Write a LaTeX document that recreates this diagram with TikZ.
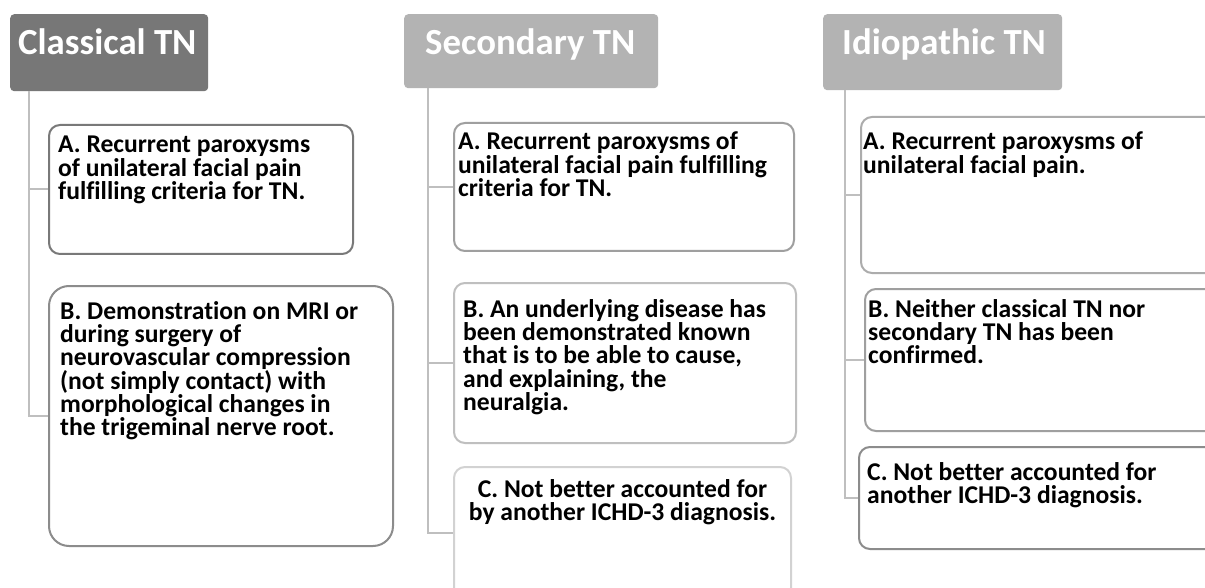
\documentclass[tikz,border=0pt]{standalone}
\usepackage{fontspec}
\setmainfont{Carlito}[Ligatures=NoCommon]
\usetikzlibrary{calc, positioning}
\definecolor{hdrdark}{HTML}{777777}
\definecolor{hdrlight}{HTML}{B3B3B3}
\definecolor{linkgray}{HTML}{BFBFBF}
\tikzset{
  hdr/.style={fill=#1, rounded corners=4pt, anchor=north west, inner sep=0pt},
  hdrtext/.style={anchor=north west, inner sep=0pt, text=white,
    font=\fontsize{36.8}{40}\selectfont\bfseries},
  crit/.style={draw=#1, line width=2pt, rounded corners=11pt, anchor=north west,
    inner sep=0pt, fill=white},
  crittext/.style={anchor=north west, inner sep=0pt, align=left,
    font=\fontsize{25.6}{23.3}\selectfont\bfseries},
  link/.style={draw=linkgray, line width=2pt}
}

\begin{document}
\begin{tikzpicture}[x=1pt, y=-1pt]
\useasboundingbox (0,0) rectangle (1205,588);
\fill[white] (0,0) rectangle (1205,588);
\clip (0,0) rectangle (1205,588);

% headers
\node[hdr=hdrdark, minimum width=198pt, minimum height=77pt] (hc) at (10,14) {};
\node[hdrtext] (hct) at ($(hc.north west)+(8,14)$) {Classical TN};
\node[hdr=hdrlight, minimum width=254pt, minimum height=74pt] (hs) at (404,14) {};
\node[hdrtext] (hst) at ($(hs.north west)+(21,14)$) {Secondary TN};
\node[hdr=hdrlight, minimum width=239pt, minimum height=76pt] (hi) at (823,14) {};
\node[hdrtext] (hit) at ($(hi.north west)+(19,14)$) {Idiopathic TN};

\coordinate (ct) at (29,91);
\coordinate (st) at (428,88);
\coordinate (it) at (845,90);

% classical TN
\node[crit=gray!105, minimum width=304pt, minimum height=129pt] (cA) at (48,124) {};
\node[crit=gray!90, rounded corners=20pt, minimum width=344pt, minimum height=260pt] (cB) at (48,285) {};
\node[crittext] (cAt) at ($(cA.north west)+(10,12)$)
  {A. Recurrent paroxysms\\of unilateral facial pain\\fulfilling criteria for TN.};
\node[crittext] (cBt) at ($(cB.north west)+(12,16)$)
  {B. Demonstration on MRI or\\during surgery of\\neurovascular compression\\(not simply contact) with\\morphological changes in\\the trigeminal nerve root.};

% secondary TN
\node[crit=gray!75, minimum width=340pt, minimum height=128pt] (sA) at (453,122) {};
\node[crit=gray!50, minimum width=342pt, minimum height=160pt] (sB) at (453,282) {};
\node[crit=gray!35, minimum width=337pt, minimum height=132pt] (sC) at (453,466) {};
\node[crittext] (sAt) at ($(sA.north west)+(5,10)$)
  {A. Recurrent paroxysms of\\unilateral facial pain fulfilling\\criteria for TN.};
\node[crittext] (sBt) at ($(sB.north west)+(10,17)$)
  {B. An underlying disease has\\been demonstrated known\\that is to be able to cause,\\and explaining, the\\neuralgia.};
\node[crittext, align=center, anchor=north] (sCt) at ($(sC.north)+(0,13)$)
  {C. Not better accounted for\\by another ICHD-3 diagnosis.};

% idiopathic TN
\node[crit=gray!65, minimum width=400pt, minimum height=156pt] (iA) at (860,116) {};
\node[crit=gray!75, minimum width=400pt, minimum height=142pt] (iB) at (864,288) {};
\node[crit=gray!90, minimum width=400pt, minimum height=102pt] (iC) at (858,446) {};
\node[crittext] (iAt) at ($(iA.north west)+(3,16)$)
  {A. Recurrent paroxysms of\\unilateral facial pain.};
\node[crittext] (iBt) at ($(iB.north west)+(4,11)$)
  {B. Neither classical TN nor\\secondary TN has been\\confirmed.};
\node[crittext] (iCt) at ($(iC.north west)+(9,16)$)
  {C. Not better accounted for\\another ICHD-3 diagnosis.};

% connectors
\draw[link] (ct) |- (cA.west);
\draw[link] (ct) |- (cB.west);
\draw[link] (st) |- (sA.west);
\draw[link] (st) |- (sB.west);
\draw[link] (st) |- (sC.west);
\draw[link] (it) |- (iA.west);
\draw[link] (it) |- (iB.west);
\draw[link] (it) |- (iC.west);
\end{tikzpicture}
\end{document}
